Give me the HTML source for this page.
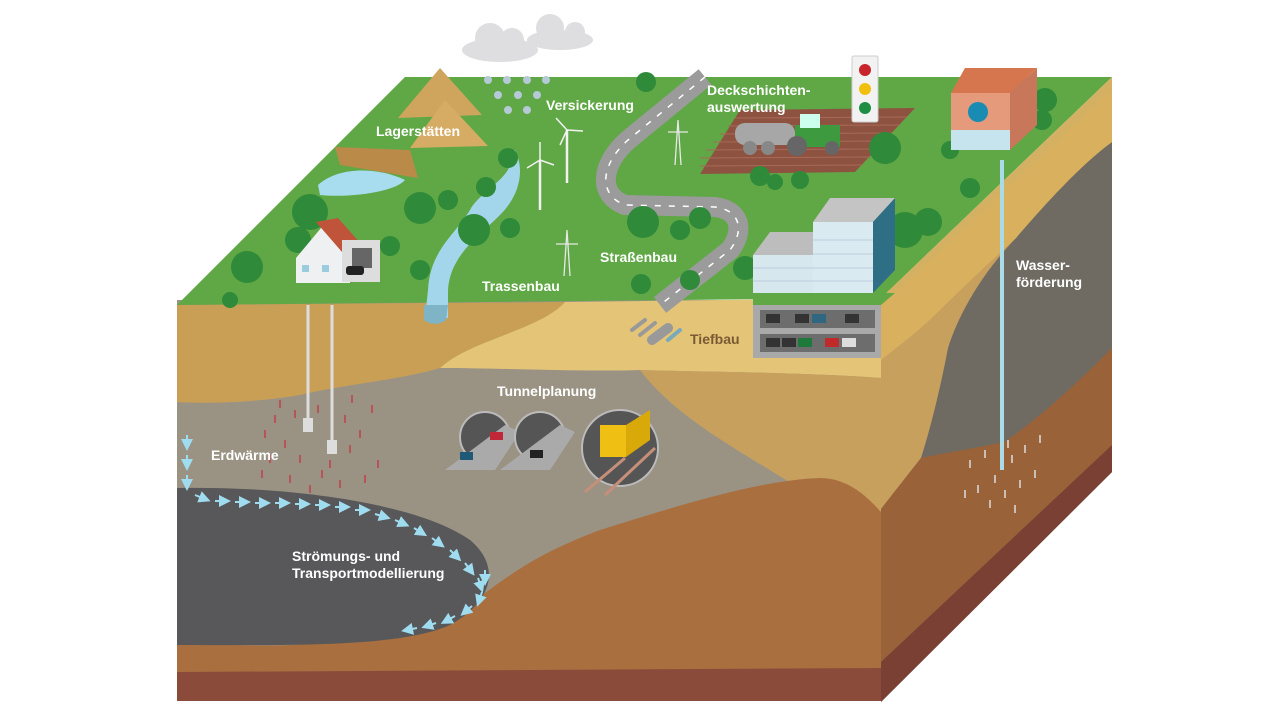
<!DOCTYPE html>
<html><head><meta charset="utf-8"><style>
html,body{margin:0;padding:0;background:#fff;width:1280px;height:720px;overflow:hidden}
svg{display:block}
text{font-family:"Liberation Sans",sans-serif;font-weight:bold;font-size:14px;fill:#fff}
</style></head><body>
<svg width="1280" height="720" viewBox="0 0 1280 720" xmlns="http://www.w3.org/2000/svg">
<defs>
<marker id="ar" markerWidth="6" markerHeight="6" refX="3" refY="3" orient="auto"><path d="M0,0 L6,3 L0,6 Z" fill="#9fdcef"/></marker>
</defs>

<!-- FRONT FACE -->
<g>
<rect x="177" y="300" width="704" height="400" fill="#9a9384"/>
<path d="M177,305 L565,302 C540,330 470,340 440,368 C400,380 340,385 300,395 C260,402 210,404 177,402 Z" fill="#c99f55"/>
<path d="M565,302 L881,298 L881,378 C800,372 700,372 640,370 C580,372 500,368 440,368 C470,340 540,330 565,302 Z" fill="#e4c477"/>
<path d="M640,370 C700,372 800,372 881,378 L881,512 C840,508 800,490 770,470 C720,440 670,410 640,370 Z" fill="#c7a05e"/>
<path d="M177,640 C260,650 360,650 460,610 C500,585 520,560 600,530 C680,505 760,480 820,478 C850,478 870,500 881,512 L881,700 L177,700 Z" fill="#a96f3f"/>
<path d="M177,488 C300,486 420,505 470,540 C500,565 495,600 450,625 C400,648 280,645 177,645 Z" fill="#58585a"/>
<path d="M177,672 L881,668 L881,701 L177,701 Z" fill="#8a4b3b"/>
</g>

<!-- RIGHT FACE -->
<path d="M881,298 L1112,78 L1112,472 L881,702 Z" fill="#6f6b62"/>
<path d="M881,298 L1112,78 L1112,142 C1080,165 1040,210 1016,238 C985,270 960,310 948,348 C940,390 930,430 921,458 L881,509 Z" fill="#c7a05e"/>
<path d="M881,298 L1112,78 L1112,142 C1080,165 1040,210 1016,238 C990,262 960,290 940,310 C920,330 900,345 881,360 Z" fill="#d9b15e"/>
<path d="M881,509 L921,458 C960,450 990,446 1006,441 C1050,410 1090,370 1112,348 L1112,445 L881,662 Z" fill="#9a6238"/>
<path d="M881,662 L1112,445 L1112,472 L881,702 Z" fill="#7a4033"/>

<!-- TOP FACE -->
<path d="M177,305 L405,77 L1112,77 L881,298 Z" fill="#5fa845"/>
<path d="M1112,77 L1112,90 L890,298 L881,298 Z" fill="#d4b062"/>

<!-- field -->
<path d="M740,110 L915,108 L855,172 L700,174 Z" fill="#8e5340"/>
<g stroke="#a8695a" stroke-width="1"><line x1="735" y1="118" x2="907" y2="117"/><line x1="728" y1="126" x2="900" y2="125"/><line x1="720" y1="134" x2="892" y2="133"/><line x1="713" y1="142" x2="885" y2="141"/><line x1="706" y1="150" x2="878" y2="149"/><line x1="700" y1="158" x2="870" y2="157"/><line x1="700" y1="166" x2="862" y2="165"/></g>

<!-- sand piles & cliff -->
<path d="M398,118 L440,68 L482,115 Z" fill="#cfa45d"/>
<path d="M410,148 L445,100 L488,146 Z" fill="#d6ac64"/>
<path d="M335,147 L410,150 L418,178 L340,165 Z" fill="#b98a48"/>
<path d="M318,185 C340,165 380,168 405,180 C395,192 350,198 320,195 Z" fill="#a8dcef"/>
<!-- river -->
<path d="M510,150 C520,175 480,190 470,210 C455,235 430,250 428,290 L425,318 L448,318 L448,290 C450,255 480,235 500,215 C520,195 525,170 515,150 Z" fill="#a3d6ea"/>
<path d="M424,305 L448,305 L446,320 C440,325 430,325 424,320 Z" fill="#7fb3c6"/>

<!-- road -->
<path d="M705,77 L628,140 C600,165 598,195 625,205 L715,207 C740,210 745,230 730,250 L660,305" fill="none" stroke="#9b9b9b" stroke-width="20" stroke-linejoin="round"/>
<path d="M705,77 L628,140 C600,165 598,195 625,205 L715,207 C740,210 745,230 730,250 L660,305" fill="none" stroke="#fff" stroke-width="1.5" stroke-dasharray="6 8"/>

<!-- trees -->
<g fill="#2f8a3a">
<circle cx="310" cy="212" r="18"/><circle cx="298" cy="240" r="13"/><circle cx="247" cy="267" r="16"/><circle cx="420" cy="208" r="16"/><circle cx="448" cy="200" r="10"/><circle cx="486" cy="187" r="10"/><circle cx="474" cy="230" r="16"/><circle cx="510" cy="228" r="10"/><circle cx="390" cy="246" r="10"/><circle cx="420" cy="270" r="10"/><circle cx="508" cy="158" r="10"/><circle cx="646" cy="82" r="10"/><circle cx="643" cy="222" r="16"/><circle cx="680" cy="230" r="10"/><circle cx="700" cy="218" r="11"/><circle cx="641" cy="284" r="10"/><circle cx="690" cy="280" r="10"/><circle cx="885" cy="148" r="16"/><circle cx="760" cy="176" r="10"/><circle cx="775" cy="182" r="8"/><circle cx="800" cy="180" r="9"/><circle cx="950" cy="150" r="9"/><circle cx="970" cy="188" r="10"/><circle cx="1045" cy="100" r="12"/><circle cx="1042" cy="120" r="10"/><circle cx="905" cy="230" r="18"/><circle cx="928" cy="222" r="14"/><circle cx="745" cy="268" r="12"/><circle cx="230" cy="300" r="8"/>
</g>

<!-- house -->
<path d="M296,258 L326,222 L350,250 L350,283 L296,283 Z" fill="#eef0f2"/>
<path d="M316,222 L338,218 L362,245 L342,252 Z" fill="#c0543b"/>
<rect x="342" y="240" width="38" height="42" fill="#ddd"/><rect x="352" y="248" width="20" height="20" fill="#666"/>
<rect x="346" y="266" width="18" height="9" rx="3" fill="#222"/>
<rect x="302" y="265" width="7" height="7" fill="#9cd"/><rect x="322" y="265" width="7" height="7" fill="#9cd"/>

<!-- wind turbines -->
<g stroke="#f2f2f2" stroke-width="2.5"><line x1="540" y1="160" x2="540" y2="210"/><line x1="567" y1="130" x2="567" y2="183"/></g>
<g stroke="#f2f2f2" stroke-width="1.5"><line x1="540" y1="160" x2="527" y2="168"/><line x1="540" y1="160" x2="554" y2="165"/><line x1="540" y1="160" x2="540" y2="142"/><line x1="567" y1="130" x2="556" y2="118"/><line x1="567" y1="130" x2="583" y2="131"/><line x1="567" y1="130" x2="560" y2="145"/></g>
<!-- pylons -->
<g stroke="#e8e8e8" stroke-width="1.3" fill="none"><path d="M675,165 L678,120 L681,165 M668,132 L688,132"/><path d="M564,276 L567,230 L570,276 M556,244 L578,244"/></g>
<!-- clouds and rain -->
<g fill="#dedee0"><ellipse cx="500" cy="50" rx="38" ry="12"/><circle cx="490" cy="38" r="15"/><circle cx="512" cy="40" r="12"/><ellipse cx="560" cy="40" rx="33" ry="10"/><circle cx="550" cy="28" r="14"/><circle cx="575" cy="32" r="10"/></g>
<g fill="#b5c9d6"><circle cx="488" cy="80" r="4"/><circle cx="507" cy="80" r="4"/><circle cx="527" cy="80" r="4"/><circle cx="546" cy="80" r="4"/><circle cx="498" cy="95" r="4"/><circle cx="518" cy="95" r="4"/><circle cx="537" cy="95" r="4"/><circle cx="508" cy="110" r="4"/><circle cx="527" cy="110" r="4"/></g>

<!-- tractor & tank -->
<rect x="735" y="123" width="60" height="22" rx="10" fill="#a7a7a7"/>
<circle cx="750" cy="148" r="7" fill="#888"/><circle cx="768" cy="148" r="7" fill="#888"/>
<rect x="795" y="125" width="45" height="22" fill="#3e9a3e"/><rect x="800" y="114" width="20" height="14" fill="#cfe"/>
<circle cx="797" cy="146" r="10" fill="#666"/><circle cx="832" cy="148" r="7" fill="#666"/>
<!-- traffic light -->
<rect x="852" y="56" width="26" height="66" rx="2" fill="#f2f2f2" stroke="#ccc"/>
<circle cx="865" cy="70" r="6" fill="#c8242b"/><circle cx="865" cy="89" r="6" fill="#f1c00f"/><circle cx="865" cy="108" r="6" fill="#1e8f42"/>

<!-- water building -->
<path d="M951,93 L965,68 L1037,68 L1010,93 Z" fill="#d6764f"/>
<rect x="951" y="93" width="59" height="57" fill="#e69a7c"/>
<path d="M1010,93 L1037,68 L1037,125 L1010,150 Z" fill="#c9775a"/>
<rect x="951" y="130" width="59" height="20" fill="#c6e4ee"/>
<circle cx="978" cy="112" r="10" fill="#1a8bb3"/>

<!-- office building -->
<path d="M753,255 L770,232 L830,232 L813,255 Z" fill="#bdbdbd"/>
<rect x="753" y="255" width="60" height="38" fill="#d6e8ee"/>
<path d="M813,222 L830,198 L895,198 L873,222 Z" fill="#c4c4c4"/>
<rect x="813" y="222" width="60" height="71" fill="#d9eaf0"/>
<path d="M873,222 L895,198 L895,270 L873,293 Z" fill="#2f6f86"/>
<g stroke="#aac" stroke-width="0.6"><line x1="753" y1="268" x2="873" y2="268"/><line x1="753" y1="281" x2="873" y2="281"/><line x1="813" y1="240" x2="873" y2="240"/><line x1="813" y1="254" x2="873" y2="254"/></g>
<!-- garage -->
<path d="M753,293 L895,293 L881,305 L753,305 Z" fill="#5fa845"/>
<rect x="753" y="305" width="128" height="53" fill="#a9a9a9"/>
<rect x="760" y="310" width="115" height="18" fill="#6d6d6d"/><rect x="760" y="334" width="115" height="18" fill="#6d6d6d"/>
<g fill="#333"><rect x="766" y="314" width="14" height="9"/><rect x="795" y="314" width="14" height="9"/><rect x="812" y="314" width="14" height="9" fill="#2f6680"/><rect x="845" y="314" width="14" height="9"/><rect x="766" y="338" width="14" height="9"/><rect x="782" y="338" width="14" height="9"/><rect x="798" y="338" width="14" height="9" fill="#1e7a3a"/><rect x="825" y="338" width="14" height="9" fill="#c02a2a"/><rect x="842" y="338" width="14" height="9" fill="#ddd"/></g>

<!-- pipes -->
<g stroke="#999" stroke-linecap="round"><line x1="632" y1="330" x2="645" y2="320" stroke-width="4"/><line x1="640" y1="335" x2="655" y2="323" stroke-width="4"/><line x1="652" y1="340" x2="668" y2="328" stroke-width="10"/><line x1="668" y1="340" x2="680" y2="330" stroke-width="4" stroke="#7ab"/></g>

<!-- geothermal -->
<g stroke="#ddd" stroke-width="3"><line x1="308" y1="305" x2="308" y2="420"/><line x1="332" y1="305" x2="332" y2="440"/></g>
<rect x="303" y="418" width="10" height="14" fill="#ddd"/><rect x="327" y="440" width="10" height="14" fill="#ddd"/>
<g stroke="#c0404a" stroke-width="1.5">
<path d="M265,430v8M275,415v8M285,440v8M295,410v8M300,455v8M318,405v8M322,470v8M345,415v8M350,445v8M360,430v8M372,405v8M378,460v8M270,455v8M290,475v8M310,485v8M340,480v8M365,475v8M280,400v8M352,395v8M262,470v8M330,460v8"/>
</g>
<!-- water well -->
<line x1="1002" y1="160" x2="1002" y2="470" stroke="#a9dbe9" stroke-width="4"/>
<g stroke="#ddd" stroke-width="1.5"><path d="M970,460v8M985,450v8M995,475v8M1012,455v8M1025,445v8M1035,470v8M978,485v8M1005,490v8M1020,480v8M990,500v8M1015,505v8M965,490v8M1040,435v8M1008,440v8"/></g>

<!-- tunnels -->
<g>
<circle cx="485" cy="437" r="25" fill="#555" stroke="#bbb" stroke-width="2"/>
<path d="M445,470 L495,470 L520,432 L505,425 Z" fill="#aaa"/>
<rect x="460" y="452" width="13" height="8" fill="#1e5a78"/><rect x="490" y="432" width="13" height="8" fill="#c0283a"/>
<circle cx="540" cy="437" r="25" fill="#555" stroke="#bbb" stroke-width="2"/>
<path d="M500,470 L550,470 L575,432 L560,425 Z" fill="#aaa"/>
<rect x="530" y="450" width="13" height="8" fill="#222"/>
<circle cx="620" cy="448" r="38" fill="#555" stroke="#bbb" stroke-width="2"/>
<rect x="600" y="425" width="26" height="32" fill="#efbf14"/><path d="M626,425 L650,410 L650,440 L626,457 Z" fill="#d9a90a"/>
<g stroke="#c58f7a" stroke-width="3"><line x1="585" y1="492" x2="625" y2="458"/><line x1="605" y1="495" x2="655" y2="448"/></g>
</g>

<!-- flow arrows -->
<g stroke="#9fdcef" stroke-width="2" fill="none" marker-end="url(#ar)">
<path d="M187,435 v10"/><path d="M187,455 v10"/><path d="M187,475 v10"/>
<path d="M195,495 l10,4"/><path d="M215,501 h10"/><path d="M235,502 h10"/><path d="M255,503 h10"/><path d="M275,503 h10"/><path d="M295,504 h10"/><path d="M315,505 h10"/><path d="M335,507 h10"/><path d="M355,510 h10"/><path d="M375,514 l10,3"/><path d="M395,520 l9,4"/><path d="M414,528 l8,5"/><path d="M432,538 l8,6"/><path d="M450,550 l7,7"/><path d="M465,563 l6,8"/><path d="M478,578 l3,9"/>
<path d="M485,570 l0,10"/><path d="M482,592 l-3,9"/><path d="M472,606 l-7,6"/><path d="M455,616 l-9,5"/><path d="M436,623 l-9,3"/><path d="M417,628 l-10,2"/>
</g>

<!-- labels -->
<text x="376" y="136">Lagerstätten</text>
<text x="546" y="110">Versickerung</text>
<text x="707" y="95">Deckschichten-</text>
<text x="707" y="112">auswertung</text>
<text x="482" y="291">Trassenbau</text>
<text x="600" y="262">Straßenbau</text>
<text x="690" y="344" style="fill:#7a5a35">Tiefbau</text>
<text x="1016" y="270">Wasser-</text>
<text x="1016" y="287">förderung</text>
<text x="497" y="396">Tunnelplanung</text>
<text x="211" y="460">Erdwärme</text>
<text x="292" y="561">Strömungs- und</text>
<text x="292" y="578">Transportmodellierung</text>
</svg>
</body></html>
